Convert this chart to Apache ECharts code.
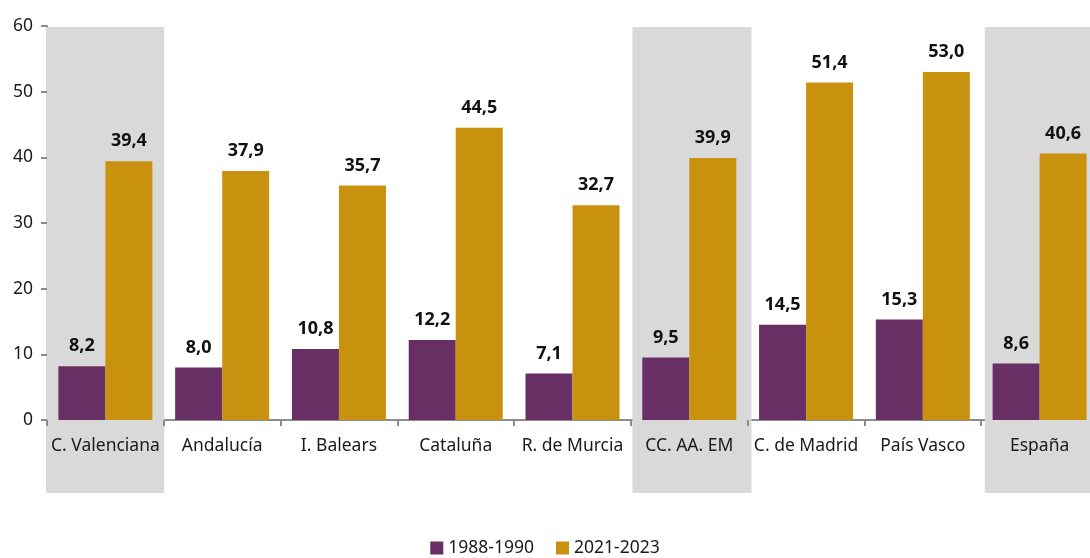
<!DOCTYPE html>
<html>
<head>
<meta charset="utf-8">
<script src="https://cdn.jsdelivr.net/npm/echarts@6/dist/echarts.min.js"></script>
<style>
  html, body { margin: 0; padding: 0; background: #fff; }
  #chart { width: 1090px; height: 558px; }
</style>
</head>
<body>
<div id="chart"></div>
<script>
var categories = ['C. Valenciana', 'Andalucía', 'I. Balears', 'Cataluña', 'R. de Murcia', 'CC. AA. EM', 'C. de Madrid', 'País Vasco', 'España'];
var serie1988 = [8.2, 8.0, 10.8, 12.2, 7.1, 9.5, 14.5, 15.3, 8.6];
var serie2021 = [39.4, 37.9, 35.7, 44.5, 32.7, 39.9, 51.4, 53.0, 40.6];
// categories with grey background
var shaded = ['C. Valenciana', 'CC. AA. EM', 'España'];

var FONT = '"Noto Sans", "Open Sans", sans-serif';

function fmt(p) {
  return p.value.toFixed(1).replace('.', ',');
}

var chart = echarts.init(document.getElementById('chart'));

chart.setOption({
  animation: false,
  textStyle: { fontFamily: FONT },
  grid: [
    // plot runs a bit past the right edge of the window, as in the original
    { left: 47, right: -8, top: 26, bottom: 138, outerBoundsMode: 'none' },
    // background bands reach below the axis labels
    { left: 46, right: -13, top: 27, bottom: 65, outerBoundsMode: 'none' }
  ],
  legend: {
    bottom: -4,
    left: 'center',
    itemWidth: 13,
    itemHeight: 13,
    itemGap: 22,
    icon: 'rect',
    textStyle: { fontSize: 17.5, color: '#1a1a1a', fontFamily: FONT },
    data: ['1988-1990', '2021-2023']
  },
  xAxis: [
    {
      type: 'category',
      data: categories,
      gridIndex: 0,
      axisLine: { lineStyle: { color: '#8c8c8c', width: 2 } },
      axisTick: { show: true, length: 6, lineStyle: { color: '#8c8c8c', width: 2 } },
      axisLabel: { interval: 0, fontSize: 17.5, color: '#1a1a1a', margin: 17, fontFamily: FONT }
    },
    {
      type: 'category',
      data: categories,
      gridIndex: 1,
      show: false
    }
  ],
  yAxis: [
    {
      type: 'value',
      gridIndex: 0,
      min: 0,
      max: 60,
      interval: 10,
      axisLine: { show: true, lineStyle: { color: '#8c8c8c', width: 2 } },
      axisTick: { show: true, length: 6, lineStyle: { color: '#8c8c8c', width: 2 } },
      splitLine: { show: false },
      axisLabel: { fontSize: 17.5, color: '#1a1a1a', margin: 14, fontFamily: FONT }
    },
    {
      type: 'value',
      gridIndex: 1,
      min: 0,
      max: 1,
      show: false
    }
  ],
  series: [
    {
      type: 'bar',
      xAxisIndex: 1,
      yAxisIndex: 1,
      barWidth: 119,
      z: 0,
      silent: true,
      itemStyle: { color: '#d9d9d9' },
      data: categories.map(function (c) { return shaded.indexOf(c) >= 0 ? 1 : null; })
    },
    {
      name: '1988-1990',
      type: 'bar',
      barWidth: 47,
      barGap: '0%',
      z: 3,
      itemStyle: { color: '#672f64' },
      label: {
        show: true, position: 'top', distance: 11,
        fontSize: 18, fontWeight: 'bold', color: '#111', fontFamily: FONT,
        formatter: fmt
      },
      data: serie1988
    },
    {
      name: '2021-2023',
      type: 'bar',
      barWidth: 47,
      barGap: '0%',
      z: 3,
      itemStyle: { color: '#c8920f' },
      label: {
        show: true, position: 'top', distance: 11,
        fontSize: 18, fontWeight: 'bold', color: '#111', fontFamily: FONT,
        formatter: fmt
      },
      data: serie2021
    }
  ]
});
</script>
</body>
</html>
